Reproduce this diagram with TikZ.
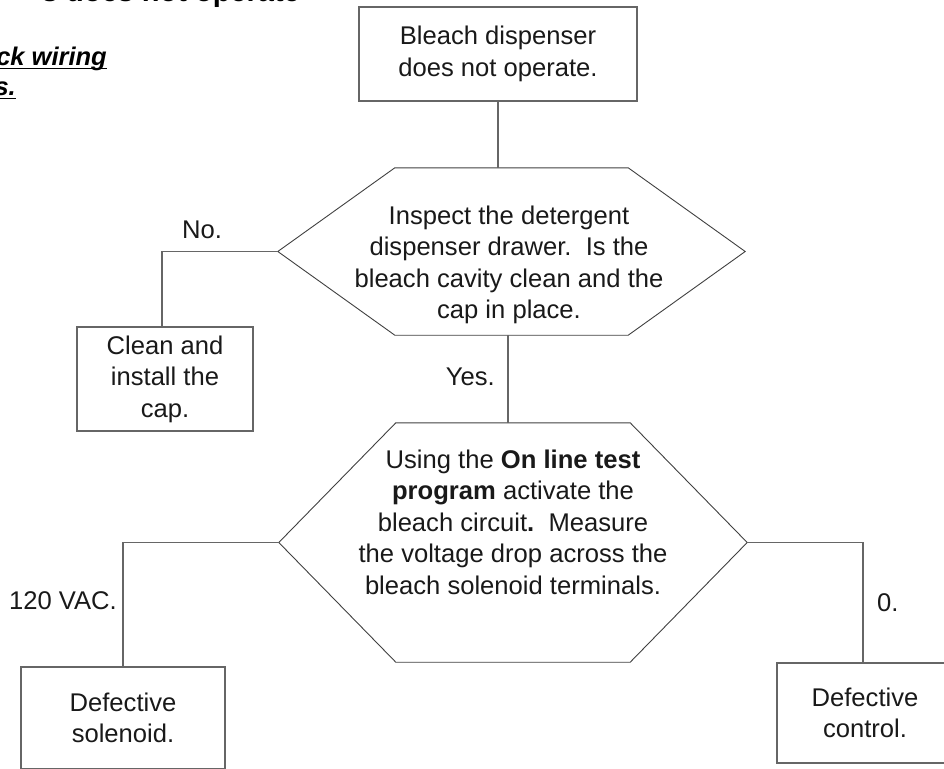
\documentclass[tikz,border=0pt]{standalone}
\usepackage{fontspec}
\setmainfont{Liberation Sans}
\newcommand{\flowfont}{\fontsize{25.6}{31.5}\selectfont}
\tikzset{
  box/.style={draw=black!60, line width=1.4pt, align=center, inner sep=0pt, font=\flowfont, text=black!90},
  hexa/.style={draw=none, inner sep=0pt},
  frame/.style={draw=black!75, line width=0.9pt},
  wire/.style={draw=black!60, line width=1.3pt},
  lbl/.style={inner sep=0pt, font=\flowfont, text=black!90},
}

\begin{document}
\begin{tikzpicture}[x=1pt,y=-1pt]
\useasboundingbox (0,0) rectangle (944,768);
\clip (0,0) rectangle (944,768);

% heading of the page, cut off by the frame
\node[anchor=base east, inner sep=0pt, font=\fontsize{29}{34}\selectfont\bfseries] (head) at (300,2) {s does not operate};
\node[anchor=base east, inner sep=0pt, font=\fontsize{25.5}{30}\selectfont\bfseries\itshape] (note1) at (107,65) {ck wiring};
\node[anchor=base east, inner sep=0pt, font=\fontsize{25.5}{30}\selectfont\bfseries\itshape] (note2) at (16,95) {s.};
\draw[line width=1.2pt] ([yshift=-3.5pt]note1.base west) -- ([yshift=-3.5pt]note1.base east);
\draw[line width=1.2pt] ([yshift=-3.5pt]note2.base west) -- ([yshift=-3.5pt]note2.base east);

\node[box, minimum width=278pt, minimum height=94pt] (start) at (498,54) {Bleach dispenser\\does not operate.};

\node[hexa, minimum width=467pt, minimum height=167pt] (q1) at (511.5,251.5) {};
\draw[frame] (q1.west) -- ([xshift=117pt]q1.north west) -- ([xshift=-117pt]q1.north east) -- (q1.east)
  -- ([xshift=-117pt]q1.south east) -- ([xshift=117pt]q1.south west) -- cycle;
\node[lbl, align=center] (q1t) at (509,265) {Inspect the detergent\\dispenser drawer.\ \ Is the\\bleach cavity clean and the\\cap in place.};

\node[box, minimum width=176pt, minimum height=104pt] (clean) at (165,379) {Clean and\\install the\\cap.};

\node[hexa, minimum width=468pt, minimum height=239pt] (q2) at (513,542.5) {};
\draw[frame] (q2.west) -- ([xshift=117pt]q2.north west) -- ([xshift=-117pt]q2.north east) -- (q2.east)
  -- ([xshift=-117pt]q2.south east) -- ([xshift=117pt]q2.south west) -- cycle;
\node[lbl, align=center] (q2t) at (513,522) {Using the \textbf{On line test}\\\textbf{program} activate the\\bleach circuit\textbf{.}\ \ Measure\\the voltage drop across the\\bleach solenoid terminals.};

\node[box, minimum width=204pt, minimum height=102pt] (bad1) at (123,718) {Defective\\solenoid.};
\node[box, minimum width=176pt, minimum height=100pt] (bad2) at (865,713) {Defective\\control.};

% connectors
\draw[wire] (start.south) -- (start.south |- q1.north);
\draw[wire] (q1.west) -| ([xshift=-3pt]clean.north);
\draw[wire] ([xshift=-3.5pt]q1.south) -- ([xshift=-3.5pt]q1.south |- q2.north);
\draw[wire] (q2.west) -| (bad1.north);
\draw[wire] (q2.east) -| ([xshift=-2pt]bad2.north);

\node[lbl, anchor=base] (no) at (202,238) {No.};
\node[lbl, anchor=base east] (yes) at (495,385) {Yes.};
\node[lbl, anchor=base east] (vac) at (117,609) {120 VAC.};
\node[lbl, anchor=base west] (zero) at (877,611) {0.};
\end{tikzpicture}
\end{document}
